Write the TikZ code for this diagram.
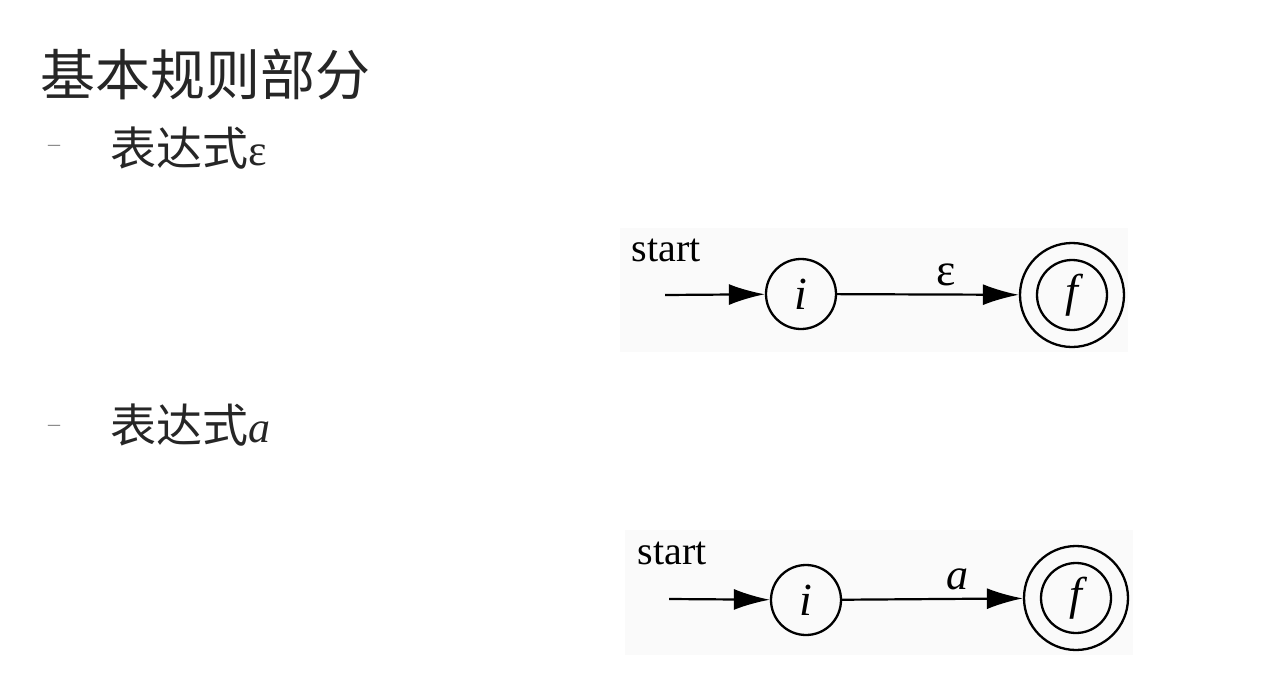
\documentclass[tikz,border=0pt]{standalone}
\usepackage{fontspec}
\setmainfont{Liberation Serif}
\newfontfamily\cjk{Noto Sans CJK SC}
\usetikzlibrary{arrows.meta}

\tikzset{
  state/.style={circle, draw, line width=2.3pt, minimum size=70pt, inner sep=0pt,
    font=\fontsize{46}{46}\selectfont\itshape},
  ring/.style={circle, draw, line width=2.3pt, minimum size=104pt, inner sep=0pt},
  trans/.style={-{Latex[length=36pt,width=21pt]}, line width=2.2pt},
  panel/.style={fill=black!2, draw=none},
  bullet/.style={text=black!45, font=\fontsize{24}{24}\selectfont},
  heading/.style={anchor=west, inner sep=0pt, text=black!85},
}

\begin{document}
\begin{tikzpicture}[x=1pt,y=-1pt]
\useasboundingbox (0,0) rectangle (1269,696);

% headings
\node[heading, font=\cjk\fontsize{55}{60}\selectfont] (title) at (40,75) {基本规则部分};
\node[bullet] (b1) at (54,148) {–};
\node[heading, font=\fontsize{46}{50}\selectfont] (sub1) at (110,148) {{\cjk 表达式}{\fontsize{44}{46}\selectfont ε}};
\node[bullet] (b2) at (54,428) {–};
\node[heading, font=\fontsize{46}{50}\selectfont] (sub2) at (110,425) {{\cjk 表达式}{\fontsize{44}{46}\selectfont\itshape a}};

% NFA for epsilon
\fill[panel] (620,228) rectangle (1128,352);
\node[font=\fontsize{40}{40}\selectfont] (st1) at (666,250) {start};
\coordinate (in1) at (665,295);
\node[state] (i1) at (801,294) {i};
\node[state] (f1) at (1072,295) {f};
\node[ring] (f1o) at (1072,295) {};
\draw[trans] (in1) -- (i1);
\draw[trans] (i1) -- node[pos=.6, above=4pt, font=\fontsize{46}{46}\selectfont] (eps) {ε} (f1o);

% NFA for a
\fill[panel] (625,530) rectangle (1133,655);
\node[font=\fontsize{40}{40}\selectfont] (st2) at (672,553) {start};
\coordinate (in2) at (669,599);
\node[state] (i2) at (806,600) {i};
\node[state] (f2) at (1076,598) {f};
\node[ring] (f2o) at (1076,598) {};
\draw[trans] (in2) -- (i2);
\draw[trans] (i2) -- node[pos=.64, above=4pt, font=\fontsize{44}{44}\selectfont\itshape] (lbla) {a} (f2o);
\end{tikzpicture}
\end{document}
